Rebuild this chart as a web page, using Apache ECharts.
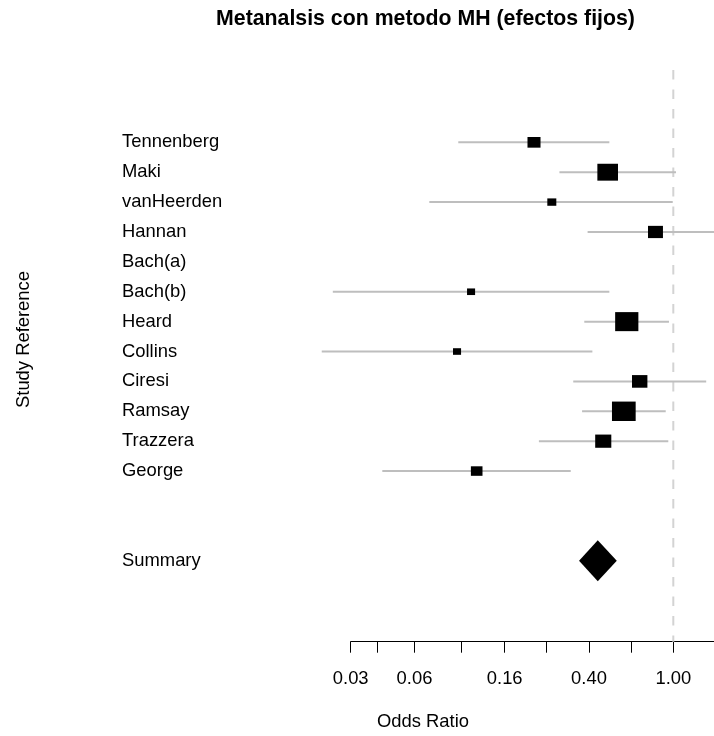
<!DOCTYPE html>
<html><head><meta charset="utf-8">
<script src="https://cdn.jsdelivr.net/npm/echarts@6/dist/echarts.min.js"></script>
<style>html,body{margin:0;padding:0;background:#fff}#c{width:714px;height:736px}</style>
</head><body><div id="c"></div>
<script>
// ---- data ----
const studies = ['Tennenberg','Maki','vanHeerden','Hannan','Bach(a)','Bach(b)','Heard','Collins','Ciresi','Ramsay','Trazzera','George'];
const oddsRatio = [0.220, 0.490, 0.267, 0.824, null, 0.111, 0.603, 0.0953, 0.694, 0.584, 0.467, 0.118];
const ciLower   = [0.0966, 0.290, 0.0705, 0.394, null, 0.0247, 0.380, 0.0219, 0.337, 0.371, 0.232, 0.0423];
const ciUpper   = [0.499, 1.03, 0.994, 1.72, null, 0.499, 0.954, 0.415, 1.43, 0.921, 0.947, 0.328];
const boxWeight = [0.55, 0.87, 0.38, 0.63, null, 0.34, 0.98, 0.34, 0.65, 1.00, 0.68, 0.49];
const summaryName = 'Summary';
const summaryOR = 0.440, summaryLower = 0.359, summaryUpper = 0.541;
const tickValues  = [0.03, 0.04, 0.06, 0.10, 0.16, 0.25, 0.40, 0.63, 1.00];
const labelValues = [0.03, 0.06, 0.16, 0.40, 1.00];
const titleText = 'Metanalsis con metodo MH (efectos fijos)';
const xTitle = 'Odds Ratio';
const yTitle = 'Study Reference';

// ---- build ----
const FONT = '"Liberation Sans", Arial, Helvetica, sans-serif';
const FS = 18.4;
const ln = Math.log;
const summaryRow = studies.length + 2;
const rowNames = {};
studies.forEach((s, i) => rowNames[i] = s);
rowNames[summaryRow] = summaryName;
const labelRows = studies.map((s, i) => i).concat([summaryRow]);

const studyData = [];
studies.forEach((s, i) => {
  if (oddsRatio[i] == null) return;
  studyData.push([i, ln(ciLower[i]), ln(ciUpper[i]), ln(oddsRatio[i]), boxWeight[i]]);
});

const Y_MIN = -2.42, Y_MAX = 16.71;
const BOX_MAX = 23.7;

const chart = echarts.init(document.getElementById('c'), null, {renderer: 'canvas'});
chart.setOption({
  animation: false,
  backgroundColor: '#fff',
  textStyle: {fontFamily: FONT},
  grid: {left: 350.7, right: 0, top: 70, bottom: 94.3, containLabel: false, outerBoundsMode: 'none'},
  xAxis: {
    type: 'value', min: ln(0.03), max: 0.4424, position: 'bottom',
    axisLine: {show: true, onZero: false, lineStyle: {color: '#000', width: 1}},
    axisTick: {show: true, length: 11, customValues: tickValues.map(ln), lineStyle: {color: '#000', width: 1}},
    axisLabel: {show: true, customValues: labelValues.map(ln), formatter: v => Math.exp(v).toFixed(2),
      fontSize: FS, color: '#000', margin: 28, fontFamily: FONT},
    splitLine: {show: false}
  },
  yAxis: {
    type: 'value', inverse: true, min: Y_MIN, max: Y_MAX,
    axisLine: {show: false}, axisTick: {show: false}, splitLine: {show: false},
    axisLabel: {show: true, customValues: labelRows, formatter: v => rowNames[Math.round(v)] || '',
      align: 'left', margin: 228.7, fontSize: FS, color: '#000', fontFamily: FONT, padding: [4, 0, 0, 0]}
  },
  series: [
    {
      type: 'line', data: [[0, Y_MIN], [0, Y_MAX]], symbol: 'none', silent: true,
      lineStyle: {color: '#d3d3d3', width: 2, type: [9.5, 10]}, z: 1
    },
    {
      type: 'custom', clip: false, z: 3,
      encode: {x: [1, 2, 3], y: 0},
      data: studyData,
      renderItem: (params, api) => {
        const row = api.value(0);
        const lo = api.coord([api.value(1), row]);
        const hi = api.coord([api.value(2), row]);
        const c = api.coord([api.value(3), row]);
        const w = api.value(4) * BOX_MAX, h = w / 1.22;
        return {type: 'group', children: [
          {type: 'line', shape: {x1: lo[0], y1: lo[1], x2: hi[0], y2: hi[1]}, style: {stroke: '#bebebe', lineWidth: 2}},
          {type: 'rect', shape: {x: c[0] - w / 2, y: c[1] - h / 2, width: w, height: h}, style: {fill: '#000'}}
        ]};
      }
    },
    {
      type: 'custom', clip: false, z: 3,
      encode: {x: [1, 2, 3], y: 0},
      data: [[summaryRow, ln(summaryLower), ln(summaryUpper), ln(summaryOR)]],
      renderItem: (params, api) => {
        const row = api.value(0);
        const lo = api.coord([api.value(1), row]);
        const hi = api.coord([api.value(2), row]);
        const c = api.coord([api.value(3), row]);
        const hh = 20.5;
        return {type: 'polygon', shape: {points: [[lo[0], lo[1]], [c[0], c[1] - hh], [hi[0], hi[1]], [c[0], c[1] + hh]]},
          style: {fill: '#000'}};
      }
    }
  ],
  graphic: [
    {type: 'text', x: 425.5, y: 19, style: {text: titleText, font: 'bold 21.3px ' + FONT, fill: '#000', align: 'center', verticalAlign: 'middle'}},
    {type: 'text', x: 423, y: 722, style: {text: xTitle, font: FS + 'px ' + FONT, fill: '#000', align: 'center', verticalAlign: 'middle'}},
    {type: 'text', x: 24, y: 339.5, rotation: Math.PI / 2, style: {text: yTitle, font: FS + 'px ' + FONT, fill: '#000', align: 'center', verticalAlign: 'middle'}}
  ]
});
</script>
</body></html>
